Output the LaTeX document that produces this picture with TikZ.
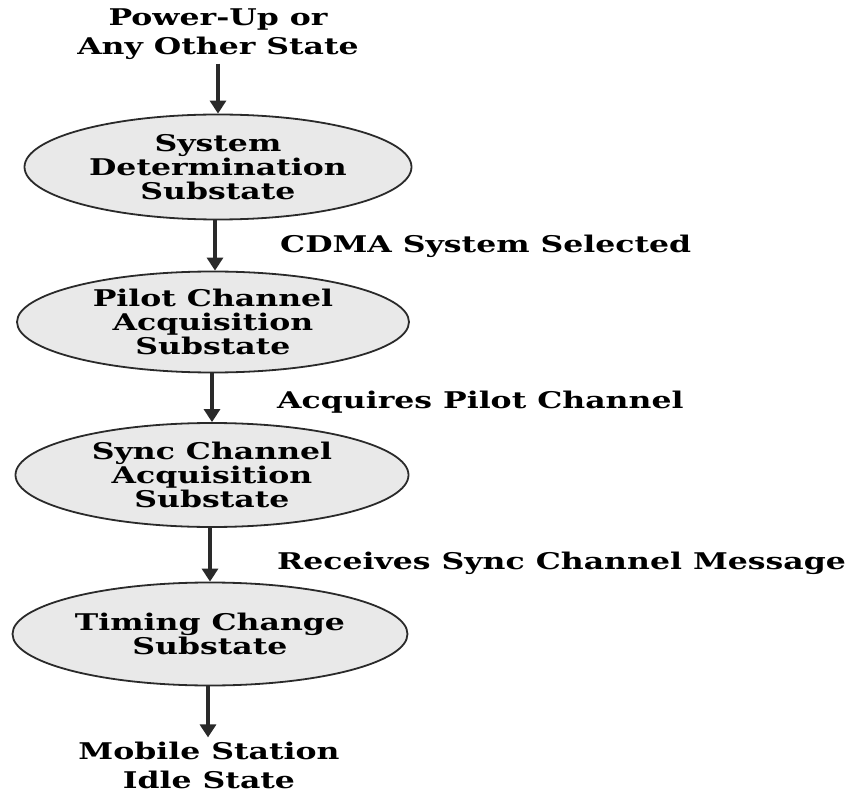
\documentclass[tikz,border=0pt]{standalone}
\usepackage{fontspec}
\setmainfont[FakeStretch=1.37]{DejaVu Serif}
\usetikzlibrary{shapes.geometric,arrows.meta}
\definecolor{inkgray}{HTML}{2A2A2A}
\definecolor{fillgray}{HTML}{E9E9E9}
\tikzset{
  statebox/.style={ellipse, draw=inkgray, line width=1.8pt, fill=fillgray,
    inner sep=0pt, align=center, font=\fontsize{23}{24}\selectfont\bfseries},
  endtext/.style={align=center, inner sep=0pt, font=\fontsize{23}{29}\selectfont\bfseries},
  cond/.style={anchor=west, inner sep=0pt, font=\fontsize{23}{24}\selectfont\bfseries},
  flow/.style={draw=inkgray, line width=3.2pt, -{Triangle[length=13pt,width=16pt]}}
}
\begin{document}
\begin{tikzpicture}[x=1pt,y=-1pt]
  \useasboundingbox (0,0) rectangle (857,794);
  \node[endtext] (start) at (218,34) {Power-Up or\\Any Other State};
  \node[statebox, minimum width=387pt, minimum height=105pt] (sysdet) at (218,167)
    {System\\Determination\\Substate};
  \node[statebox, minimum width=392pt, minimum height=101pt] (pilot) at (213,322)
    {Pilot Channel\\Acquisition\\Substate};
  \node[statebox, minimum width=393pt, minimum height=104pt] (sync) at (212,475)
    {Sync Channel\\Acquisition\\Substate};
  \node[statebox, minimum width=395pt, minimum height=103pt] (timing) at (210,634)
    {Timing Change\\Substate};
  \node[endtext] (idle) at (209,765) {Mobile Station\\Idle State};

  \node[cond] (l1) at (280,246) {CDMA System Selected};
  \node[cond] (l2) at (277,402) {Acquires Pilot Channel};
  \node[cond] (l3) at (277,563) {Receives Sync Channel Message};

  \draw[flow] ([yshift=-4pt]start.south) -- (sysdet.north);
  \draw[flow] (sysdet.south -| 215,0) -- (pilot.north -| 215,0);
  \draw[flow] (pilot.south -| 212,0) -- (sync.north -| 212,0);
  \draw[flow] (sync.south -| 210,0) -- (timing.north -| 210,0);
  \draw[flow] (timing.south -| 208,0) -- ([yshift=4pt]idle.north -| 208,0);
\end{tikzpicture}
\end{document}
